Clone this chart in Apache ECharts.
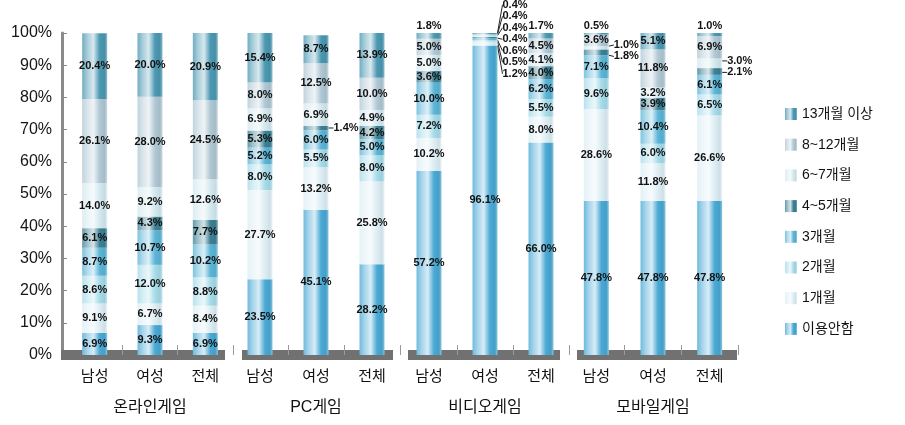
<!DOCTYPE html>
<html lang="ko">
<head>
<meta charset="utf-8">
<title>게임 이용 기간 분포</title>
<script src="https://cdn.jsdelivr.net/npm/echarts@6/dist/echarts.min.js"></script>
<style>
  html, body { margin: 0; padding: 0; background: #ffffff; }
  #chart { width: 905px; height: 425px; }
</style>
</head>
<body>
<div id="chart"></div>
<script>
// Game types (one panel each) and the respondent groups inside every panel
const gameTypes = ['온라인게임', 'PC게임', '비디오게임', '모바일게임'];
const groups = ['남성', '여성', '전체'];

// Usage period buckets, stacked from the bottom of each bar upward
const periods = ['이용안함', '1개월', '2개월', '3개월', '4~5개월', '6~7개월', '8~12개월', '13개월 이상'];

// Shares (%) per bucket, ordered: online(남,여,전), PC(남,여,전), video(남,여,전), mobile(남,여,전)
const shareNone   = [6.9, 9.3, 6.9, 23.5, 45.1, 28.2, 57.2, 96.1, 66.0, 47.8, 47.8, 47.8];
const share1m     = [9.1, 6.7, 8.4, 27.7, 13.2, 25.8, 10.2, 1.2, 8.0, 28.6, 11.8, 26.6];
const share2m     = [8.6, 12.0, 8.8, 8.0, 5.5, 8.0, 7.2, 0.5, 5.5, 9.6, 6.0, 6.5];
const share3m     = [8.7, 10.7, 10.2, 5.2, 6.0, 5.0, 10.0, 0.6, 6.2, 7.1, 10.4, 6.1];
const share4to5m  = [6.1, 4.3, 7.7, 5.3, 1.4, 4.2, 3.6, 0.4, 4.0, 1.8, 3.9, 2.1];
const share6to7m  = [14.0, 9.2, 12.6, 6.9, 6.9, 4.9, 5.0, 0.4, 4.1, 1.0, 3.2, 3.0];
const share8to12m = [26.1, 28.0, 24.5, 8.0, 12.5, 10.0, 5.0, 0.4, 4.5, 3.6, 11.8, 6.9];
const share13mUp  = [20.4, 20.0, 20.9, 15.4, 8.7, 13.9, 1.8, 0.4, 1.7, 0.5, 5.1, 1.0];

const shares = [shareNone, share1m, share2m, share3m, share4to5m, share6to7m, share8to12m, share13mUp];

// Y axis ticks
const yMin = 0, yMax = 100, yStep = 10;

// ---------- styling ----------
const baseColors = ['#4aa9d4', '#dcedf4', '#a6dbe9', '#5cb5d7', '#3d8094', '#d3e8ef', '#b0c8d4', '#4c98b2'];
const FONT = '"Liberation Sans", "Noto Sans CJK KR", sans-serif';
const GRID_TOP = 33, GRID_BOTTOM = 70;
// plotting areas that hold the bars
const panels = [
  { left: 67, width: 166 },
  { left: 232, width: 168 },
  { left: 401, width: 168 },
  { left: 568, width: 170 }
];
// the thick base strips under each panel
const baseStrips = [
  { left: 61, width: 164 },
  { left: 242, width: 151 },
  { left: 408, width: 152 },
  { left: 577, width: 160 }
];
const SMALL = 3.0;        // segments this thin get their label outside the bar
const LABEL_STEP = 11.5;  // vertical spacing of stacked outside labels

function hexToRgb(h) {
  const n = parseInt(h.slice(1), 16);
  return [(n >> 16) & 255, (n >> 8) & 255, n & 255];
}
function shade(h, t) {
  const c = hexToRgb(h);
  const out = c.map(v => t >= 0 ? Math.round(v + (255 - v) * t) : Math.round(v * (1 + t)));
  return 'rgb(' + out.join(',') + ')';
}
function barFill(h) {
  return new echarts.graphic.LinearGradient(0, 0, 1, 0, [
    { offset: 0, color: shade(h, 0.2) },
    { offset: 0.2, color: shade(h, 0.5) },
    { offset: 0.45, color: shade(h, 0.78) },
    { offset: 0.7, color: h },
    { offset: 0.9, color: shade(h, -0.06) },
    { offset: 1, color: shade(h, 0.35) }
  ]);
}

// Which segments are labelled outside, and how
function valueAt(s, i) { return shares[s][i]; }
function isSmall(s, i) { return valueAt(s, i) <= SMALL; }
function placement(s, i) {
  if (!isSmall(s, i)) return 'inside';
  const top = shares.length - 1;
  if (s === top && !isSmall(s - 1, i)) return 'top';
  return 'side';
}
function sideSet(i) {
  const list = [];
  for (let s = 0; s < shares.length; s++) if (placement(s, i) === 'side') list.push(s);
  return list;
}
function cumBelow(s, i) {
  let c = 0;
  for (let k = 0; k < s; k++) c += valueAt(k, i);
  return c;
}

const chart = echarts.init(document.getElementById('chart'), null, { renderer: 'canvas' });

const grids = panels.map(p => ({ left: p.left, width: p.width, top: GRID_TOP, bottom: GRID_BOTTOM }))
  .concat(baseStrips.map(p => ({ left: p.left, width: p.width, top: GRID_TOP, bottom: GRID_BOTTOM })));

const nPanels = gameTypes.length;

const xAxes = gameTypes.map((name, g) => ({
  type: 'category',
  gridIndex: g,
  data: groups,
  name: name,
  nameLocation: 'middle',
  nameGap: 45,
  nameTextStyle: { fontFamily: FONT, fontSize: 16, color: '#111' },
  axisLine: { show: false },
  axisTick: {
    show: true, inside: true, length: 10,
    interval: idx => idx > 0,
    lineStyle: { color: '#9a9a9a', width: 1 }
  },
  axisLabel: { fontFamily: FONT, fontSize: 15, color: '#111', margin: 14 },
  z: 3
})).concat(baseStrips.map((p, g) => ({
  type: 'value',
  gridIndex: nPanels + g,
  min: 0,
  max: 1,
  offset: 3,
  axisLine: { show: true, lineStyle: { color: '#717171', width: 10, cap: 'butt' } },
  axisTick: { show: false },
  axisLabel: { show: false },
  splitLine: { show: false },
  z: 1
})));

const yAxes = gameTypes.map((name, g) => ({
  type: 'value',
  gridIndex: g,
  min: yMin,
  max: yMax,
  interval: yStep,
  show: g === 0,
  offset: 5,
  axisLine: { show: true, lineStyle: { color: '#8a8a8a', width: 3 } },
  axisTick: { show: true, inside: true, length: 5, lineStyle: { color: '#8a8a8a' } },
  axisLabel: { formatter: '{value}%', fontFamily: FONT, fontSize: 16, color: '#151515', margin: 10 },
  splitLine: { show: false }
})).concat(baseStrips.map((p, g) => ({
  type: 'value',
  gridIndex: nPanels + g,
  min: 0,
  max: 1,
  show: false
})));

const series = [];
gameTypes.forEach((gt, g) => {
  periods.forEach((pname, s) => {
    const data = groups.map((grp, c) => {
      const i = g * groups.length + c;
      const v = valueAt(s, i);
      const where = placement(s, i);
      const item = { value: v };
      if (where === 'top') {
        item.label = { position: 'top', distance: 2 };
      } else if (where === 'side') {
        item.label = { position: 'right', distance: 4 };
        item.labelLine = { show: true };
      }
      return item;
    });
    series.push({
      name: pname,
      type: 'bar',
      xAxisIndex: g,
      yAxisIndex: g,
      stack: 'panel' + g,
      barWidth: 25,
      data: data,
      itemStyle: { color: barFill(baseColors[s]) },
      label: {
        show: true,
        position: 'inside',
        formatter: p => p.value.toFixed(1) + '%',
        fontFamily: FONT,
        fontSize: 11,
        fontWeight: 'bold',
        color: '#111'
      },
      labelLine: { show: false, lineStyle: { color: '#222', width: 1 }, length2: 0 },
      labelLayout: function (params) {
        const i = g * groups.length + params.dataIndex;
        if (placement(s, i) !== 'side') return {};
        const set = sideSet(i);
        const n = set.length;
        const k = set.indexOf(s);
        const lo = cumBelow(set[0], i);
        const hi = cumBelow(set[n - 1], i) + valueAt(set[n - 1], i);
        const midPx = chart.convertToPixel({ yAxisIndex: g }, (lo + hi) / 2);
        return {
          x: params.rect.x + params.rect.width + 5,
          y: midPx - (k - (n - 1) / 2) * LABEL_STEP,
          align: 'left',
          verticalAlign: 'middle'
        };
      },
      emphasis: { disabled: true },
      animation: false,
      z: 2
    });
  });
});

chart.setOption({
  backgroundColor: '#ffffff',
  animation: false,
  grid: grids,
  xAxis: xAxes,
  yAxis: yAxes,
  legend: {
    orient: 'vertical',
    left: 780,
    top: 102,
    data: periods.slice().reverse(),
    icon: 'rect',
    itemWidth: 12,
    itemHeight: 12,
    itemGap: 16.7,
    textStyle: { fontFamily: FONT, fontSize: 14, color: '#111', lineHeight: 14 }
  },
  series: series
});
</script>
</body>
</html>
